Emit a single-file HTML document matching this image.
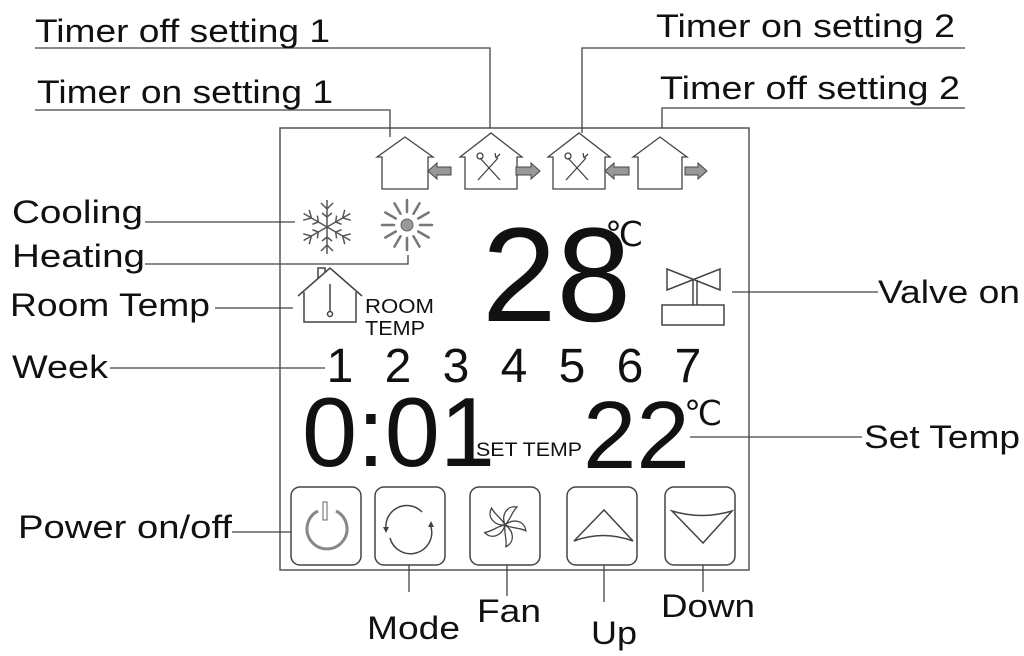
<!DOCTYPE html>
<html><head><meta charset="utf-8"><style>
html,body{margin:0;padding:0;background:#fff;}
svg{display:block;}
text{font-family:"Liberation Sans",Arial,sans-serif;fill:#111;}
</style></head><body>
<svg width="1024" height="656" viewBox="0 0 1024 656" xmlns="http://www.w3.org/2000/svg">
<g fill="none" stroke="#444" stroke-width="1.3">
<rect x="280" y="128" width="469" height="442" stroke="#555" stroke-width="1.5"/>
<polyline points="35,48 490,48 490,128"/>
<polyline points="35,110 390,110 390,137"/>
<polyline points="965,48 582,48 582,133"/>
<polyline points="965,108 662,108 662,128"/>
<line x1="145" y1="222" x2="295" y2="222"/>
<polyline points="145,264 408,264 408,255"/>
<line x1="215" y1="308" x2="293" y2="308"/>
<line x1="110" y1="368" x2="325" y2="368"/>
<line x1="732" y1="292" x2="878" y2="292"/>
<line x1="690" y1="437" x2="862" y2="437"/>
<line x1="232" y1="532" x2="291" y2="532"/>
<line x1="409" y1="565" x2="409" y2="592"/>
<line x1="507" y1="565" x2="507" y2="596"/>
<line x1="604" y1="565" x2="604" y2="602"/>
<line x1="703" y1="565" x2="703" y2="592"/>
<path d="M377,157 L405,137 L433,157 L428,157 L428,189 L382,189 L382,157 Z"/>
<path d="M460,157 L491,133 L522,157 L517,157 L517,189 L465,189 L465,157 Z"/>
<path d="M548,157 L579,133 L610,157 L605,157 L605,189 L553,189 L553,157 Z"/>
<path d="M633,157 L660,137 L687,157 L682,157 L682,189 L638,189 L638,157 Z"/>
<path d="M480,158 L500,180 M498,158 L478,180 M496,158 l4,-4 M496,158 l-1,-5"/>
<circle cx="480" cy="156" r="3"/>
<path d="M568,158 L588,180 M586,158 L566,180 M584,158 l4,-4 M584,158 l-1,-5"/>
<circle cx="568" cy="156" r="3"/>
</g>
<g fill="#999" stroke="#444" stroke-width="1">
<path d="M428,171 L437,163 L437,167 L451,167 L451,175 L437,175 L437,179 Z"/>
<path d="M540,171 L531,163 L531,167 L516,167 L516,175 L531,175 L531,179 Z"/>
<path d="M605,171 L614,163 L614,167 L629,167 L629,175 L614,175 L614,179 Z"/>
<path d="M707,171 L698,163 L698,167 L685,167 L685,175 L698,175 L698,179 Z"/>
</g>
<g stroke="#555" stroke-width="1.5" fill="none" transform="translate(327,227)">
<g id="arm"><line x1="0" y1="0" x2="0" y2="-27"/><path d="M-6,-24 L0,-18 L6,-24 M-5,-14 L0,-10 L5,-14"/></g>
<use href="#arm" transform="rotate(60)"/><use href="#arm" transform="rotate(120)"/>
<use href="#arm" transform="rotate(180)"/><use href="#arm" transform="rotate(240)"/><use href="#arm" transform="rotate(300)"/>
</g>
<g transform="translate(407,225)" stroke="#777" stroke-width="2.5" stroke-linecap="round">
<circle r="6" fill="#999" stroke="#666" stroke-width="1"/>
<g id="ray"><line x1="0" y1="-13" x2="0" y2="-25"/></g>
<use href="#ray" transform="rotate(30)"/><use href="#ray" transform="rotate(60)"/><use href="#ray" transform="rotate(90)"/>
<use href="#ray" transform="rotate(120)"/><use href="#ray" transform="rotate(150)"/><use href="#ray" transform="rotate(180)"/>
<use href="#ray" transform="rotate(210)"/><use href="#ray" transform="rotate(240)"/><use href="#ray" transform="rotate(270)"/>
<use href="#ray" transform="rotate(300)"/><use href="#ray" transform="rotate(330)"/>
</g>
<g fill="none" stroke="#444" stroke-width="1.5">
<path d="M298,296 L330,268 L362,296 M318,279 L318,268 L325,268 L325,273 M304,292 L304,322 L356,322 L356,292"/>
<line x1="330" y1="284" x2="330" y2="312"/><circle cx="330" cy="314" r="2.5"/>
<path d="M667,269 L720,290 L720,269 L667,290 Z"/>
<line x1="693" y1="280" x2="693" y2="305"/><line x1="697" y1="280" x2="697" y2="305"/>
<rect x="662" y="305" width="62" height="20"/>
<rect x="291" y="487" width="70" height="78" rx="9"/>
<rect x="375" y="487" width="70" height="78" rx="9"/>
<rect x="470" y="487" width="70" height="78" rx="9"/>
<rect x="567" y="487" width="70" height="78" rx="9"/>
<rect x="665" y="487" width="70" height="78" rx="9"/>
<path d="M574,541 L604,510 L633,541 Q603,530 574,541 Z"/>
<path d="M672,511 L703,543 L732,511 Q702,520 672,511 Z"/>
<path d="M386,529 A21,21 0 0 1 422,512 M431,527 A21,21 0 0 1 390,538"/>
</g>
<path d="M383,527 l3,6 l3,-6 Z M428,527 l3,-6 l3,6 Z" fill="#444"/>
<path d="M318,511 A20,20 0 1 0 336,511" fill="none" stroke="#888" stroke-width="3"/>
<rect x="323" y="502" width="4" height="18" fill="#fff" stroke="#666"/>
<g fill="none" stroke="#444" stroke-width="1.3" transform="translate(505,525)">
<g id="bl"><path d="M0,0 C-4,-10 2,-20 12,-18 C6,-12 6,-6 0,0"/></g>
<use href="#bl" transform="rotate(72)"/><use href="#bl" transform="rotate(144)"/><use href="#bl" transform="rotate(216)"/><use href="#bl" transform="rotate(288)"/>
</g>
<g font-size="32" lengthAdjust="spacingAndGlyphs">
<text x="35" y="42" textLength="295" lengthAdjust="spacingAndGlyphs">Timer off setting 1</text>
<text x="37" y="103" textLength="296" lengthAdjust="spacingAndGlyphs">Timer on setting 1</text>
<text x="656" y="37" textLength="299" lengthAdjust="spacingAndGlyphs">Timer on setting 2</text>
<text x="660" y="99" textLength="300" lengthAdjust="spacingAndGlyphs">Timer off setting 2</text>
<text x="12" y="223" textLength="131" lengthAdjust="spacingAndGlyphs">Cooling</text>
<text x="12" y="267" textLength="133" lengthAdjust="spacingAndGlyphs">Heating</text>
<text x="10" y="316" textLength="200" lengthAdjust="spacingAndGlyphs">Room Temp</text>
<text x="12" y="378" textLength="96" lengthAdjust="spacingAndGlyphs">Week</text>
<text x="878" y="303" textLength="142" lengthAdjust="spacingAndGlyphs">Valve on</text>
<text x="864" y="448" textLength="156" lengthAdjust="spacingAndGlyphs">Set Temp</text>
<text x="18" y="538" textLength="214" lengthAdjust="spacingAndGlyphs">Power on/off</text>
<text x="367" y="639" textLength="93" lengthAdjust="spacingAndGlyphs">Mode</text>
<text x="477" y="622" textLength="64" lengthAdjust="spacingAndGlyphs">Fan</text>
<text x="591" y="644" textLength="46" lengthAdjust="spacingAndGlyphs">Up</text>
<text x="661" y="617" textLength="94" lengthAdjust="spacingAndGlyphs">Down</text>
</g>
<text x="365" y="313" font-size="20" textLength="69" lengthAdjust="spacingAndGlyphs">ROOM</text>
<text x="365" y="335" font-size="20" textLength="60" lengthAdjust="spacingAndGlyphs">TEMP</text>
<text x="482" y="321" font-size="134">28</text>
<text x="605" y="246" font-size="34" font-family="Liberation Serif">℃</text>
<g font-size="48" text-anchor="middle">
<text x="340" y="382">1</text><text x="398" y="382">2</text><text x="456" y="382">3</text>
<text x="514" y="382">4</text><text x="572" y="382">5</text><text x="630" y="382">6</text><text x="688" y="382">7</text>
</g>
<text x="302" y="466" font-size="98" textLength="193" lengthAdjust="spacingAndGlyphs">0:01</text>
<text x="476" y="456" font-size="19" textLength="106" lengthAdjust="spacingAndGlyphs">SET TEMP</text>
<text x="583" y="468" font-size="96">22</text>
<text x="684" y="425" font-size="34" font-family="Liberation Serif">℃</text>
</svg>
</body></html>
